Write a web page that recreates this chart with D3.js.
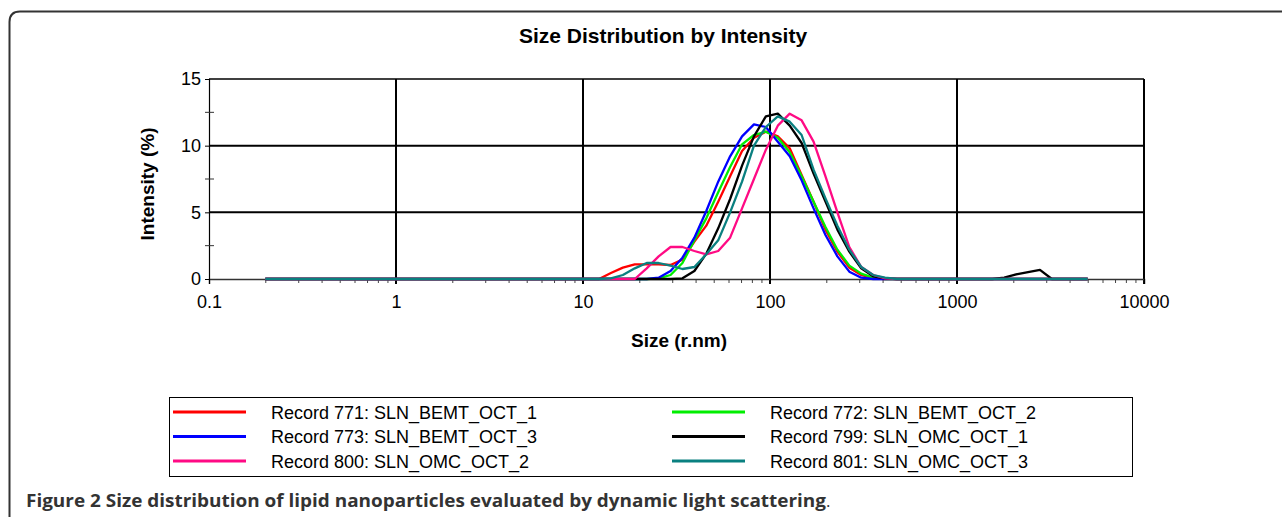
<!DOCTYPE html>
<html>
<head>
<meta charset="utf-8">
<script src="https://cdn.jsdelivr.net/npm/d3@7"></script>
<style>
  body { margin: 0; background: #fff; }
  svg { display: block; font-family: "Liberation Sans", Arial, sans-serif; }
</style>
</head>
<body>
<svg id="chart" width="1282" height="517"></svg>
<script>
// Size bins (radius, nm)
const sizes = [0.2, 0.2316, 0.2683, 0.3107, 0.3598, 0.4166, 0.4825, 0.5587, 0.647, 0.7494,
    0.868, 1.005, 1.164, 1.348, 1.561, 1.808, 2.093, 2.424, 2.807, 3.251,
    3.765, 4.36, 5.05, 5.85, 6.77, 7.84, 9.08, 10.52, 12.18, 14.1,
    16.34, 18.92, 21.91, 25.38, 29.39, 34.03, 39.41, 45.64, 52.85, 61.2,
    70.88, 82.08, 95.05, 110.1, 127.5, 147.6, 171.0, 198.0, 229.3, 265.6,
    307.6, 356.2, 412.5, 477.7, 553.2, 640.6, 741.9, 859.1, 994.9, 1152,
    1334, 1545, 1789, 2072, 2399, 2778, 3217, 3726, 4315, 5000];

const rec771 = [0, 0, 0, 0, 0, 0, 0, 0, 0, 0,
    0, 0, 0, 0, 0, 0, 0, 0, 0, 0,
    0, 0, 0, 0, 0, 0, 0, 0, 0, 0.45,
    0.85, 1.1, 1.1, 1.1, 1.05, 1.45, 2.8, 4.0, 5.8, 7.7,
    9.6, 10.6, 11.05, 10.7, 9.8, 7.8, 5.8, 3.7, 2.05, 0.85,
    0.3, 0.05, 0, 0, 0, 0, 0, 0, 0, 0,
    0, 0, 0, 0, 0, 0, 0, 0, 0, 0];
const rec772 = [0, 0, 0, 0, 0, 0, 0, 0, 0, 0,
    0, 0, 0, 0, 0, 0, 0, 0, 0, 0,
    0, 0, 0, 0, 0, 0, 0, 0, 0, 0,
    0, 0, 0, 0.05, 0.3, 1.2, 2.9, 4.55, 6.5, 8.4,
    10.1, 10.8, 11.05, 10.6, 9.5, 7.7, 5.8, 3.9, 2.2, 1.0,
    0.4, 0.1, 0, 0, 0, 0, 0, 0, 0, 0,
    0, 0, 0, 0, 0, 0, 0, 0, 0, 0];
const rec773 = [0, 0, 0, 0, 0, 0, 0, 0, 0, 0,
    0, 0, 0, 0, 0, 0, 0, 0, 0, 0,
    0, 0, 0, 0, 0, 0, 0, 0, 0, 0,
    0, 0, 0, 0.1, 0.6, 1.6, 3.1, 5.1, 7.3, 9.2,
    10.7, 11.6, 11.4, 10.3, 9.2, 7.4, 5.3, 3.3, 1.7, 0.55,
    0.1, 0, 0, 0, 0, 0, 0, 0, 0, 0,
    0, 0, 0, 0, 0, 0, 0, 0, 0, 0];
const rec799 = [0, 0, 0, 0, 0, 0, 0, 0, 0, 0,
    0, 0, 0, 0, 0, 0, 0, 0, 0, 0,
    0, 0, 0, 0, 0, 0, 0, 0, 0, 0,
    0, 0, 0, 0, 0, 0.05, 0.6, 1.9, 3.8, 6.0,
    8.5, 10.7, 12.2, 12.4, 11.5, 10.2, 7.9, 5.8, 3.7, 2.05,
    0.8, 0.2, 0.05, 0, 0, 0, 0, 0, 0, 0,
    0, 0, 0.1, 0.35, 0.52, 0.68, 0, 0, 0, 0];
const rec800 = [0, 0, 0, 0, 0, 0, 0, 0, 0, 0,
    0, 0, 0, 0, 0, 0, 0, 0, 0, 0,
    0, 0, 0, 0, 0, 0, 0, 0, 0, 0,
    0, 0, 0.8, 1.7, 2.4, 2.4, 2.1, 1.85, 2.1, 3.1,
    5.3, 7.5, 9.7, 11.5, 12.4, 11.9, 10.3, 7.7, 5.0, 2.4,
    0.9, 0.3, 0.05, 0, 0, 0, 0, 0, 0, 0,
    0, 0, 0, 0, 0, 0, 0, 0, 0, 0];
const rec801 = [0, 0, 0, 0, 0, 0, 0, 0, 0, 0,
    0, 0, 0, 0, 0, 0, 0, 0, 0, 0,
    0, 0, 0, 0, 0, 0, 0, 0, 0, 0.05,
    0.3, 0.8, 1.2, 1.2, 1.0, 0.75, 0.9, 1.85, 2.9, 5.0,
    7.3, 10.0, 11.4, 12.2, 11.8, 10.8, 8.2, 6.05, 4.0, 2.2,
    0.9, 0.3, 0.1, 0, 0, 0, 0, 0, 0, 0,
    0, 0, 0, 0, 0, 0, 0, 0, 0, 0];

const seriesNames = ["Record 771: SLN_BEMT_OCT_1", "Record 772: SLN_BEMT_OCT_2",
    "Record 773: SLN_BEMT_OCT_3", "Record 799: SLN_OMC_OCT_1",
    "Record 800: SLN_OMC_OCT_2", "Record 801: SLN_OMC_OCT_3"];
const seriesValues = [rec771, rec772, rec773, rec799, rec800, rec801];
const seriesColors = ["#ff0000", "#00ee00", "#0000ff", "#000000", "#ff0a84", "#0a8080"];

const xTicks = [0.1, 1, 10, 100, 1000, 10000];
const yTicks = [0, 5, 10, 15];
const yMinor = [2.5, 7.5, 12.5];

const svg = d3.select("#chart");

// rounded frame round the figure
svg.append("path")
    .attr("d", "M9.5,517 L9.5,22 Q9.5,11.5 20,11.5 L1282,11.5")
    .attr("fill", "none")
    .attr("stroke", "#333")
    .attr("stroke-width", 2);

const x = d3.scaleLog().domain([0.1, 10000]).range([209, 1144]);
const y = d3.scaleLinear().domain([0, 15]).range([279, 79]);

// title
svg.append("text")
    .attr("x", 663).attr("y", 43)
    .attr("text-anchor", "middle")
    .attr("font-size", 21).attr("font-weight", "bold")
    .text("Size Distribution by Intensity");

// grid lines
svg.append("g").selectAll("line")
    .data(xTicks.slice(1))
    .enter().append("line")
    .attr("x1", d => x(d)).attr("x2", d => x(d))
    .attr("y1", y(15)).attr("y2", y(0) + 5)
    .attr("stroke", "#000").attr("stroke-width", 2);

svg.append("g").selectAll("line")
    .data(yTicks.slice(1))
    .enter().append("line")
    .attr("x1", x(0.1)).attr("x2", x(10000))
    .attr("y1", d => y(d)).attr("y2", d => y(d))
    .attr("stroke", "#000").attr("stroke-width", d => d === 15 ? 1.5 : 2);

// minor x ticks
const minorX = [];
xTicks.slice(0, -1).forEach(t => { for (let k = 2; k <= 9; k++) minorX.push(t * k); });

svg.append("g")
    .attr("transform", `translate(0,${y(0)})`)
    .call(d3.axisBottom(x).tickValues(minorX).tickSize(4).tickFormat(""))
    .call(g => g.select(".domain").remove())
    .selectAll("line").attr("stroke", "#444");

// x axis
const xAxis = svg.append("g")
    .attr("transform", `translate(0,${y(0)})`)
    .call(d3.axisBottom(x).tickValues(xTicks).tickSize(5).tickPadding(11)
        .tickFormat(d => d3.format("~g")(d)));
xAxis.select(".domain").attr("stroke", "#333").attr("stroke-width", 1.5);
xAxis.selectAll("text").attr("font-size", 18).attr("fill", "#000")
    .attr("font-family", "Liberation Sans, Arial, sans-serif");

// y axis
const yAxis = svg.append("g")
    .attr("transform", `translate(${x(0.1)},0)`)
    .call(d3.axisLeft(y).tickValues(yTicks).tickSize(4).tickPadding(4));
yAxis.select(".domain").attr("stroke", "#000").attr("stroke-width", 1.2);
yAxis.selectAll("text").attr("font-size", 18).attr("fill", "#000")
    .attr("font-family", "Liberation Sans, Arial, sans-serif");

svg.append("g").selectAll("line")
    .data(yMinor)
    .enter().append("line")
    .attr("x1", x(0.1) - 4).attr("x2", x(0.1) + 5)
    .attr("y1", d => y(d)).attr("y2", d => y(d))
    .attr("stroke", "#333").attr("stroke-width", 1);

// axis labels
svg.append("text")
    .attr("x", 679).attr("y", 347)
    .attr("text-anchor", "middle")
    .attr("font-size", 19).attr("font-weight", "bold")
    .text("Size (r.nm)");

svg.append("text")
    .attr("transform", `translate(154,184) rotate(-90)`)
    .attr("text-anchor", "middle")
    .attr("font-size", 19).attr("font-weight", "bold")
    .text("Intensity (%)");

// series lines
const line = d3.line()
    .x((d, i) => x(sizes[i]))
    .y(d => y(d));

svg.append("g").selectAll("path")
    .data(seriesValues)
    .enter().append("path")
    .attr("d", d => line(d))
    .attr("fill", "none")
    .attr("stroke", (d, i) => seriesColors[i])
    .attr("stroke-width", 2.3)
    .attr("stroke-linejoin", "round");

// legend
svg.append("rect")
    .attr("x", 169.5).attr("y", 397.5)
    .attr("width", 963).attr("height", 79)
    .attr("fill", "none").attr("stroke", "#000").attr("stroke-width", 1);

const legendItem = svg.append("g").selectAll("g")
    .data(seriesNames)
    .enter().append("g")
    .attr("transform", (d, i) => `translate(${i % 2 === 0 ? 173 : 672},${412 + Math.floor(i / 2) * 24.5})`);

legendItem.append("line")
    .attr("x1", 0).attr("x2", 73)
    .attr("stroke", (d, i) => seriesColors[i])
    .attr("stroke-width", 2.8);

legendItem.append("text")
    .attr("x", 98).attr("y", 6.5)
    .attr("font-size", 18)
    .text(d => d);

// caption
const caption = svg.append("text")
    .attr("x", 26).attr("y", 507)
    .attr("font-family", "'Open Sans', 'DejaVu Sans', sans-serif")
    .attr("font-size", 17)
    .attr("fill", "#333");
caption.append("tspan")
    .attr("font-weight", "bold")
    .attr("textLength", 800)
    .attr("lengthAdjust", "spacingAndGlyphs")
    .text("Figure 2 Size distribution of lipid nanoparticles evaluated by dynamic light scattering");
caption.append("tspan").text(".");
</script>
</body>
</html>
